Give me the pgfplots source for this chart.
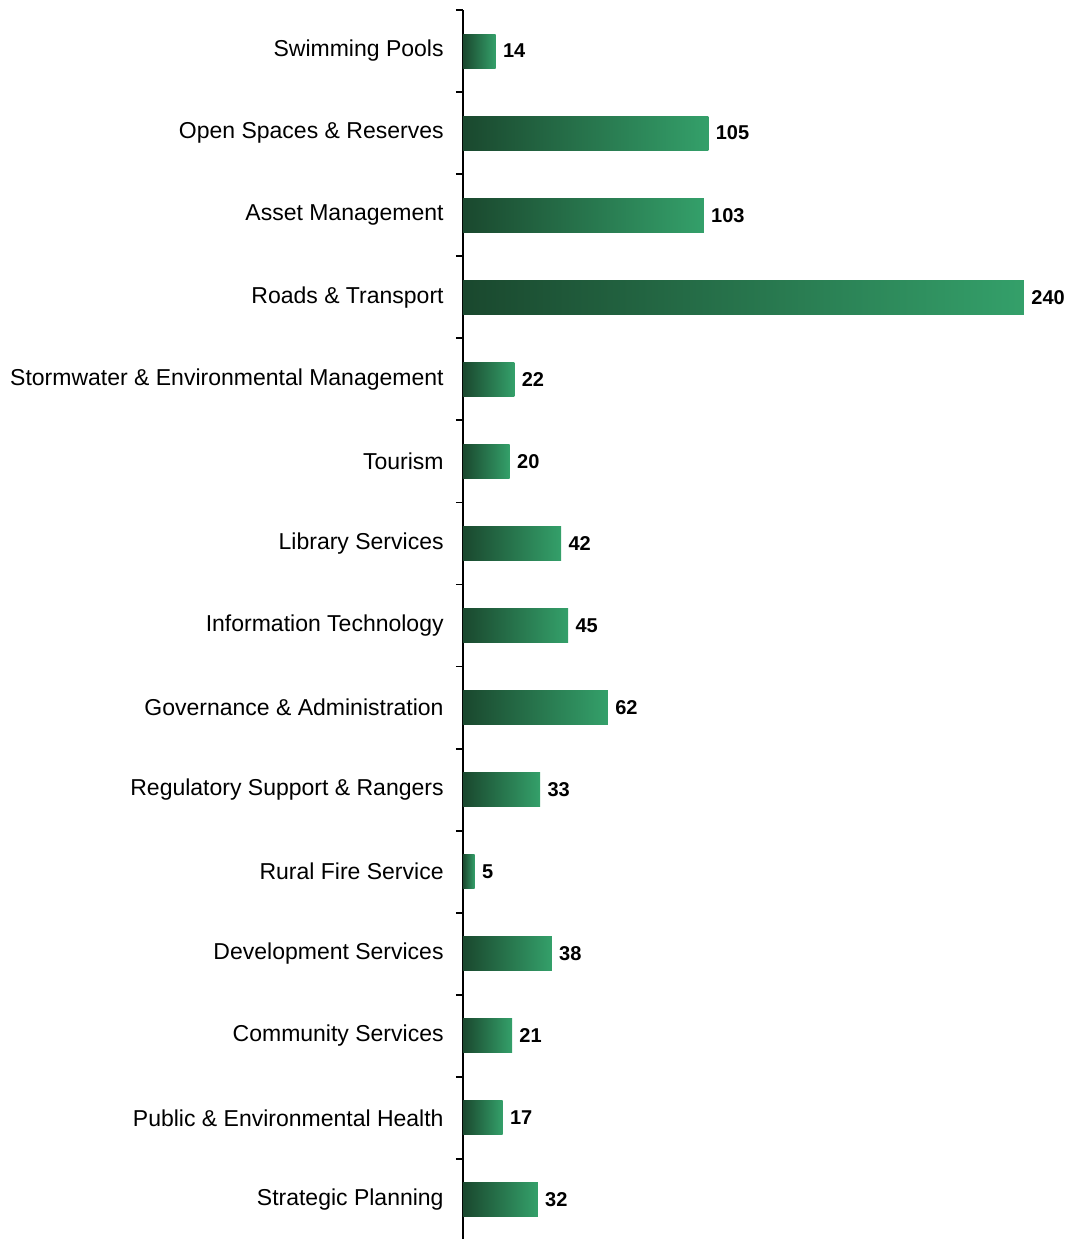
\documentclass[border=0pt]{standalone}
\usepackage{fontspec}
\setmainfont{Liberation Sans}
\usepackage{pgfplots}
\pgfplotsset{compat=1.18}
\definecolor{gdark}{RGB}{26,72,46}
\definecolor{glight}{RGB}{52,160,106}
\pgfplotsset{gbar/.style={draw=none, left color=gdark, right color=glight,
  nodes near coords,
  nodes near coords style={font=\bfseries\fontsize{10}{12}\selectfont, text=black, anchor=west, inner sep=0pt, xshift=3.5pt, /pgf/number format/assume math mode=true}}}
\begin{document}
\begin{tikzpicture}
\begin{axis}[
  scale only axis, width=280.5pt, height=615.5pt,
  xbar, bar width=17pt, bar shift=0pt,
  xmin=0, xmax=240, ymin=-0.5, ymax=14.5, y dir=reverse,
  axis x line=none, axis y line*=left,
  ytick={0,...,14},
  yticklabels={Swimming Pools, Open Spaces \& Reserves, Asset Management, Roads \& Transport, Stormwater \& Environmental Management, Tourism, Library Services, Information Technology, Governance \& Administration, Regulatory Support \& Rangers, Rural Fire Service, Development Services, Community Services, Public \& Environmental Health, Strategic Planning},
  major tick length=0pt,
  minor ytick={-0.5,0.5,...,13.5},
  minor tick length=3.5pt, tick align=outside,
  y axis line style={line width=0.9pt, black},
  tick style={black, line width=0.9pt},
  yticklabel style={font=\fontsize{11.5}{14}\selectfont, inner sep=0pt, xshift=-9.5pt},
  /pgf/number format/assume math mode=true,
  clip=false,
]
\addplot[gbar] coordinates {(14,0)};
\addplot[gbar] coordinates {(105,1)};
\addplot[gbar] coordinates {(103,2)};
\addplot[gbar] coordinates {(240,3)};
\addplot[gbar] coordinates {(22,4)};
\addplot[gbar] coordinates {(20,5)};
\addplot[gbar] coordinates {(42,6)};
\addplot[gbar] coordinates {(45,7)};
\addplot[gbar] coordinates {(62,8)};
\addplot[gbar] coordinates {(33,9)};
\addplot[gbar] coordinates {(5,10)};
\addplot[gbar] coordinates {(38,11)};
\addplot[gbar] coordinates {(21,12)};
\addplot[gbar] coordinates {(17,13)};
\addplot[gbar] coordinates {(32,14)};
\end{axis}
\pgfresetboundingbox
\path[use as bounding box] ([xshift=-231.5pt,yshift=1pt]current axis.south west) rectangle ([xshift=302.5pt,yshift=5pt]current axis.north west);
\end{tikzpicture}
\end{document}
